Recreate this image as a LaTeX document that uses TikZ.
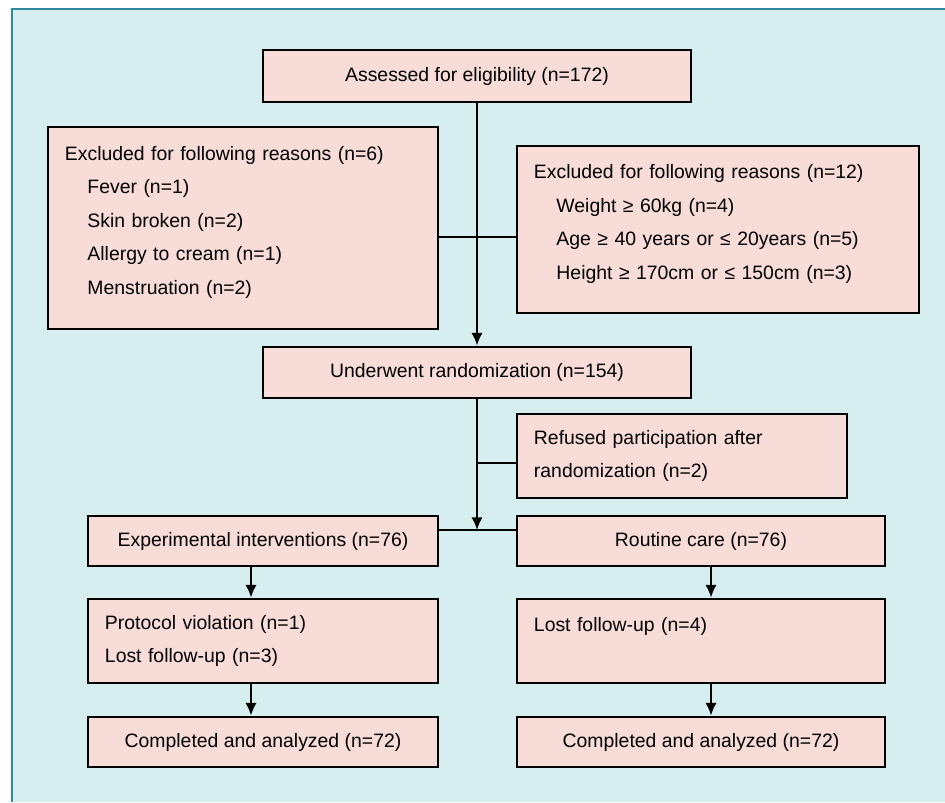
\documentclass[tikz,border=0pt]{standalone}
\usepackage{fontspec}
\setmainfont{Liberation Sans}
\usepackage{tikz}
\usetikzlibrary{arrows.meta}

\definecolor{panelfill}{HTML}{D6EEF0}
\definecolor{panelline}{HTML}{2E8A9A}
\definecolor{boxfill}{HTML}{F8DCD8}

\begin{document}
\begin{tikzpicture}[x=0.025cm,y=-0.025cm,
	flowbox/.style={shape=rectangle,draw=black,line width=2pt,fill=boxfill,
		font=\fontsize{13.8}{23.8}\selectfont,inner xsep=0.425cm,inner ysep=0pt},
	listbox/.style={flowbox,align=left},
	link/.style={line width=1.4pt},
	arr/.style={link,-{Latex[length=9pt,width=8pt]}}]
	\useasboundingbox (0,0) rectangle (945,802);
	\fill[panelfill] (12,9) rectangle (945,802);
	\draw[panelline,line width=1.8pt] (12,802) -- (12,9) -- (945,9);

	\node[flowbox,minimum width=10.7cm,minimum height=1.3cm] (assess) at (477, 76)   {Assessed for eligibility (n=172)};
	\node[listbox,minimum width=9.75cm,minimum height=5.05cm,text width=8.9cm] (exclL) at (243, 228)
		{Excluded for following reasons (n=6)\\
		\hspace*{16pt}Fever (n=1)\\
		\hspace*{16pt}Skin broken (n=2)\\
		\hspace*{16pt}Allergy to cream (n=1)\\
		\hspace*{16pt}Menstruation (n=2)\rule[-11pt]{0pt}{11pt}};
	\node[listbox,minimum width=10.05cm,minimum height=4.175cm,text width=9.2cm] (exclR) at (718, 229.5)
		{Excluded for following reasons (n=12)\\
		\hspace*{16pt}Weight ≥ 60kg (n=4)\\
		\hspace*{16pt}Age ≥ 40 years or ≤ 20years (n=5)\\
		\hspace*{16pt}Height ≥ 170cm or ≤ 150cm (n=3)\rule[-11pt]{0pt}{11pt}};
	\node[flowbox,minimum width=10.7cm,minimum height=1.275cm] (random) at (477, 372.5) {Underwent randomization (n=154)};
	\node[flowbox,align=left,minimum width=8.25cm,minimum height=2.1cm,text width=7.4cm] (refused) at (682, 456)
		{Refused participation after\\ randomization (n=2)};
	\node[flowbox,minimum width=8.75cm,minimum height=1.25cm] (exp)     at (263, 541) {Experimental interventions (n=76)};
	\node[flowbox,minimum width=9.2cm,minimum height=1.25cm]  (routine) at (701, 541) {Routine care (n=76)};
	\node[flowbox,align=left,minimum width=8.75cm,minimum height=2.1cm,text width=7.9cm] (protocol) at (263, 641)
		{Protocol violation (n=1)\\ Lost follow-up (n=3)};
	\node[flowbox,align=left,minimum width=9.2cm,minimum height=2.1cm,text width=8.35cm] (lostR) at (701, 641)
		{Lost follow-up (n=4)\\ \mbox{}};
	\node[flowbox,minimum width=8.75cm,minimum height=1.25cm] (doneL) at (263, 742) {Completed and analyzed (n=72)};
	\node[flowbox,minimum width=9.2cm,minimum height=1.25cm]  (doneR) at (701, 742) {Completed and analyzed (n=72)};

	% junctions
	\coordinate (j1) at (477, 237);
	\coordinate (j2) at (477, 463);
	\coordinate (j3) at (477, 530);
	\coordinate (lx) at (251, 0);
	\coordinate (rx) at (711, 0);

	\draw[arr] (assess) -- (random);
	\draw[link] (exclL.east |- j1) -- (exclR.west |- j1);
	\draw[arr] (random) -- (j3);
	\draw[link] (refused.west |- j2) -- (j2);
	\draw[link] (exp.east |- j3) -- (routine.west |- j3);

	\draw[arr] (exp.south -| lx) -- (protocol.north -| lx);
	\draw[arr] (protocol.south -| lx) -- (doneL.north -| lx);
	\draw[arr] (routine.south -| rx) -- (lostR.north -| rx);
	\draw[arr] (lostR.south -| rx) -- (doneR.north -| rx);
\end{tikzpicture}
\end{document}
